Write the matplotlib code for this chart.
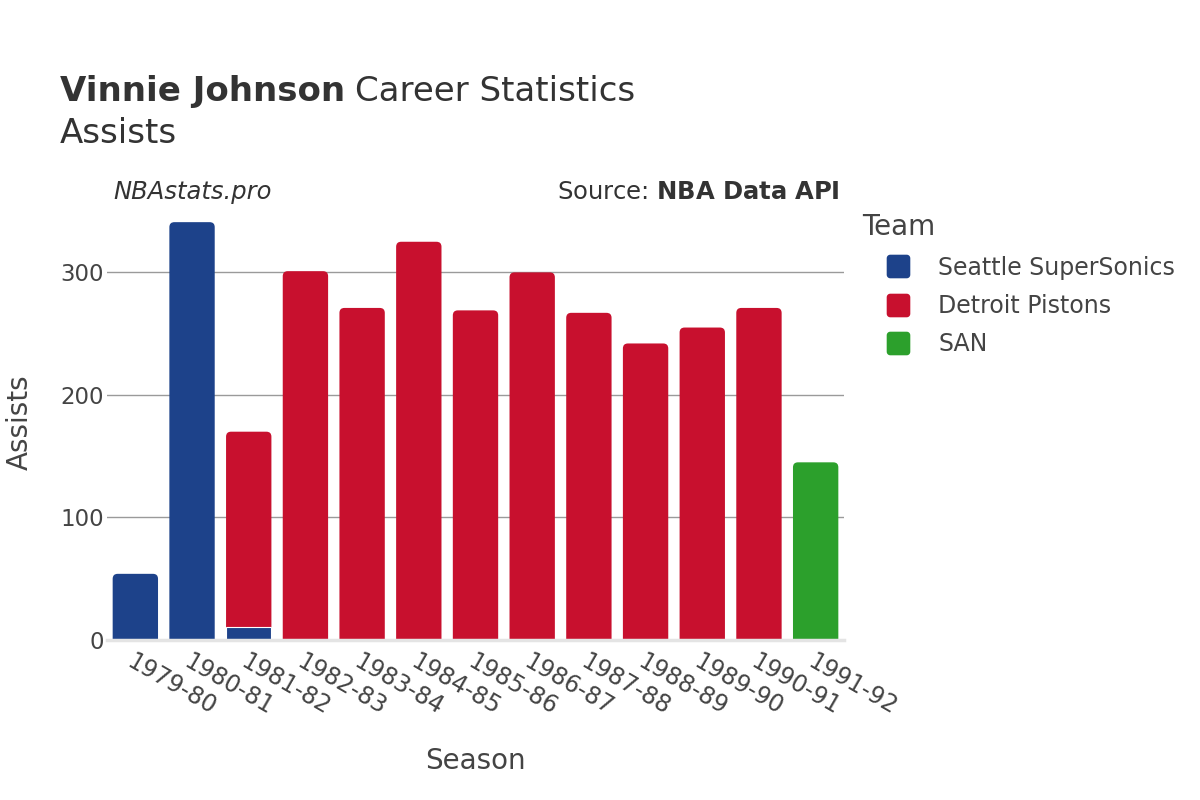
import matplotlib
matplotlib.use("Agg")
import matplotlib.pyplot as plt
from matplotlib.patches import FancyBboxPatch
from matplotlib.lines import Line2D
from matplotlib.path import Path
import numpy as np

plt.rcParams['font.family'] = ['DejaVu Sans']

seasons = ["1979-80", "1980-81", "1981-82", "1982-83", "1983-84", "1984-85", "1985-86",
           "1986-87", "1987-88", "1988-89", "1989-90", "1990-91", "1991-92"]
teams = ["Seattle SuperSonics", "Detroit Pistons", "SAN"]
colors = ["#1D428A", "#C8102E", "#2CA02C"]
seattle = [54, 341, 11, 0, 0, 0, 0, 0, 0, 0, 0, 0, 0]
detroit = [0, 0, 159, 301, 271, 325, 269, 300, 267, 242, 255, 271, 0]
san = [0, 0, 0, 0, 0, 0, 0, 0, 0, 0, 0, 0, 145]
series = [seattle, detroit, san]

TXT = "#444444"
fig = plt.figure(figsize=(12, 8), dpi=100)
AX_L, AX_W, AX_B, AX_H = 107, 737, 160, 435
ax = fig.add_axes([AX_L/1200, AX_B/800, AX_W/1200, AX_H/800])
x = np.arange(len(seasons))
width = 0.8
ymax = 355
ax.set_xlim(-0.5, len(seasons) - 0.5)
ax.set_ylim(0, ymax)

px_x = len(seasons) / AX_W
px_y = ymax / AX_H
r_px = 5.0
r_x = r_px * px_x
asp = px_y / px_x

bottoms = np.zeros(len(seasons))
totals = np.sum(np.array(series), axis=0)
for vals, col, name in zip(series, colors, teams):
    vals = np.array(vals, dtype=float)
    bars = ax.bar(x, vals, width, bottom=bottoms, color=col,
                  edgecolor="white", linewidth=0.8, zorder=3)
    for j, b in enumerate(bars):
        if vals[j] <= 0:
            b.set_visible(False)
            continue
        top = bottoms[j] + vals[j]
        if np.isclose(top, totals[j]):
            b.set_visible(False)
            ext = r_px * px_y * 3
            p = FancyBboxPatch((b.get_x(), bottoms[j] - ext), width, vals[j] + ext,
                               boxstyle=f"round,pad=0,rounding_size={r_x}",
                               mutation_aspect=asp, facecolor=col, edgecolor="none",
                               zorder=2)
            ax.add_patch(p)
    bottoms = bottoms + vals

ax.set_yticks([0, 100, 200, 300])
ax.grid(axis="y", color="#9a9a9a", linewidth=1, zorder=0)
ax.axhline(0, color="#e4e4e4", linewidth=2.5, zorder=4, clip_on=False)
for s in ax.spines.values():
    s.set_visible(False)
ax.tick_params(axis="both", length=0, labelsize=16.5, colors=TXT)
ax.tick_params(axis="y", pad=2)
ax.set_xticks(x)
ax.set_xticklabels(seasons, rotation=-30, ha="left", va="top", rotation_mode="anchor",
                   fontsize=17)
ax.tick_params(axis="x", pad=7)
for lbl in ax.get_xticklabels():
    lbl.set_x(lbl.get_position()[0])
ax.set_ylabel("Assists", fontsize=20, color=TXT)
ax.yaxis.set_label_coords(-0.1, 0.5)
ax.set_xlabel("Season", fontsize=20, color=TXT)
ax.xaxis.set_label_coords(0.5, -0.247)

# Title
t_bold = fig.text(60/1200, 1 - 101/800, "Vinnie Johnson", fontsize=24.5, fontweight="bold",
                  color="#333333", va="baseline", ha="left")
fig.canvas.draw()
bb = t_bold.get_window_extent()
fig.text(bb.x1 / 1200 + 10/1200, 1 - 101/800, "Career Statistics", fontsize=24.5, color="#333333",
         va="baseline", ha="left")
fig.text(60/1200, 1 - 143/800, "Assists", fontsize=24.5, color="#333333", va="baseline", ha="left")

fig.text(113/1200, 1 - 199/800, "NBAstats.pro", fontsize=17.5, style="italic", color="#333333",
         va="baseline", ha="left")
fig.text(840/1200, 1 - 199/800, r"Source: $\bf{NBA\ Data\ API}$", fontsize=17.5, color="#333333",
         va="baseline", ha="right")

def rounded_square(r=0.3, n=8):
    verts = []
    for cx, cy, a0 in [(1 - r, 1 - r, 0), (-1 + r, 1 - r, 90), (-1 + r, -1 + r, 180), (1 - r, -1 + r, 270)]:
        for t in np.linspace(a0, a0 + 90, n):
            verts.append((cx + r * np.cos(np.radians(t)), cy + r * np.sin(np.radians(t))))
    verts.append(verts[0])
    return Path(verts, closed=True)

mk = rounded_square()
handles = [Line2D([], [], linestyle="none", marker=mk, markersize=17, markerfacecolor=c,
                  markeredgecolor="none") for c in colors]
leg = fig.legend(handles, teams, loc="upper left", bbox_to_anchor=(853/1200, 1 - 204/800),
                 frameon=False, title="Team", fontsize=17, title_fontsize=20, handlelength=3.0,
                 labelcolor=TXT, borderaxespad=0, handletextpad=0.2,
                 labelspacing=0.6)
leg.get_title().set_color(TXT)
leg._legend_box.align = "left"

fig.savefig("out.png", dpi=100)
